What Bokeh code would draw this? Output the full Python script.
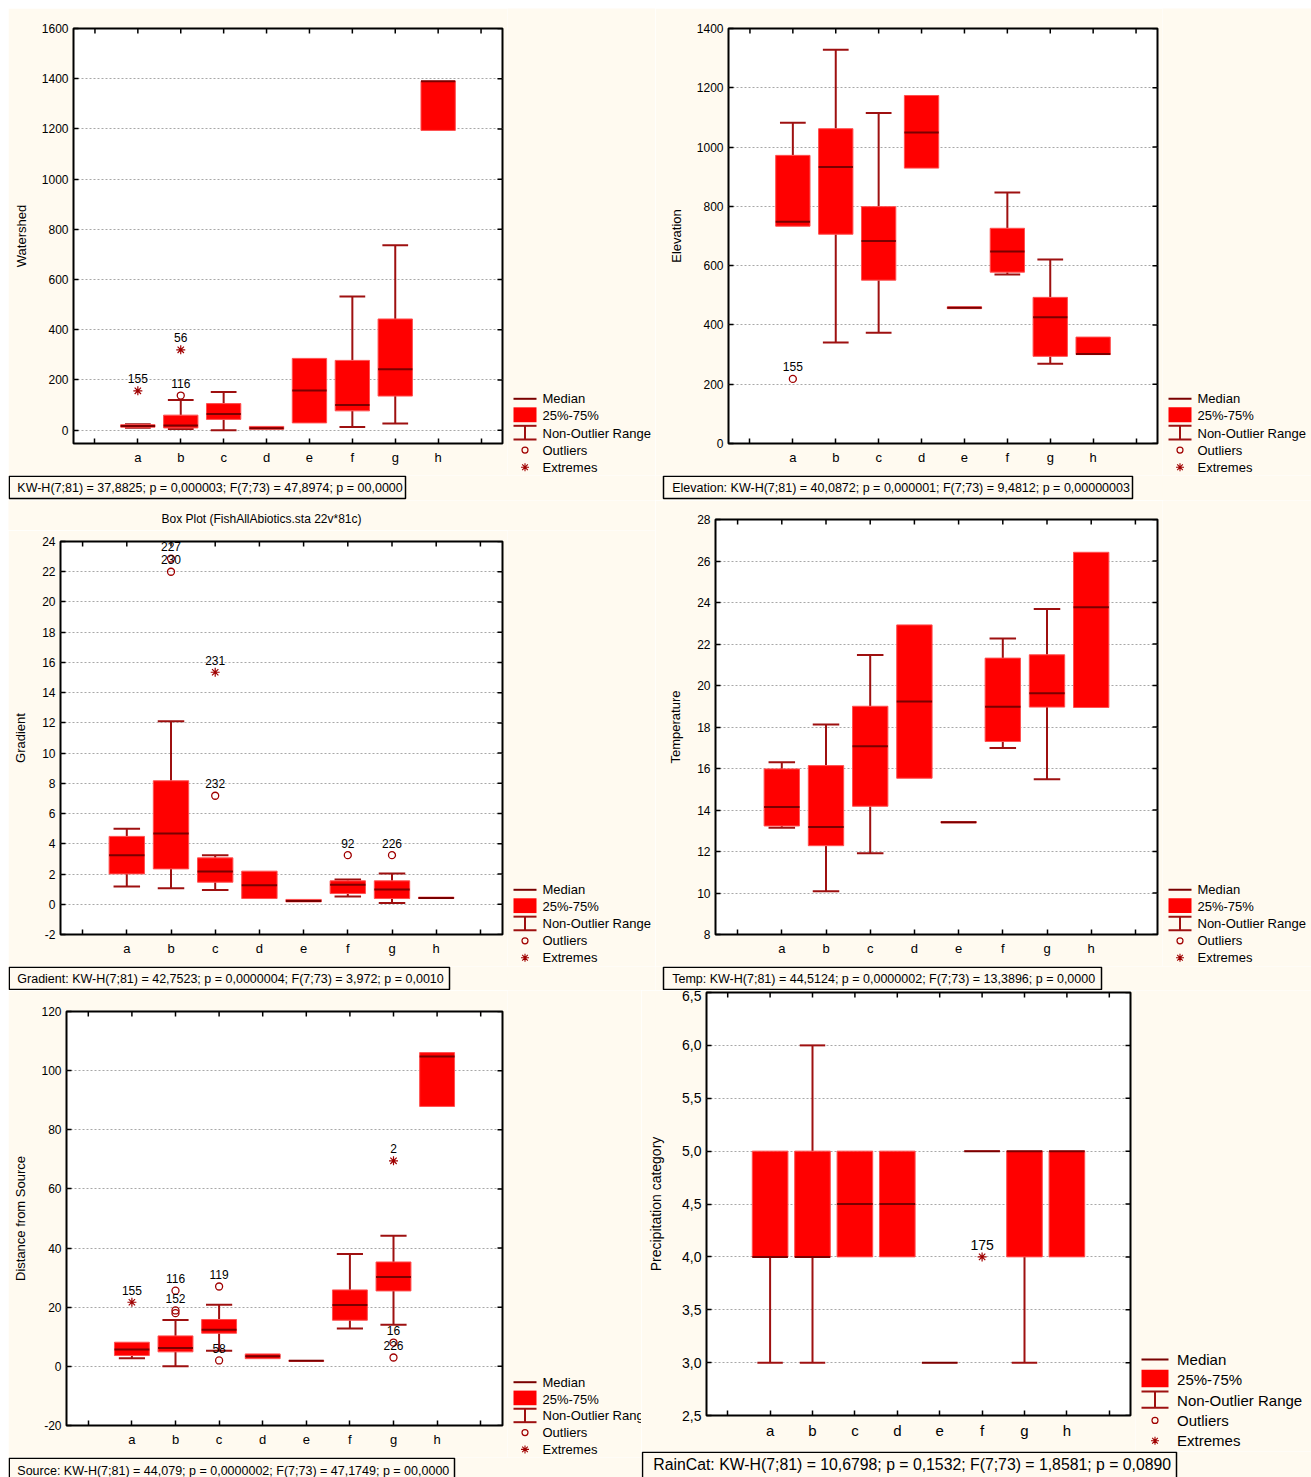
import math
from bokeh.plotting import figure
from bokeh.layouts import row, column
from bokeh.models import Range1d, FixedTicker
from bokeh.embed import file_html
from bokeh.resources import INLINE
from bokeh.core.properties import value

CATEGORIES = ["a", "b", "c", "d", "e", "f", "g", "h"]

# ---------------- Watershed ----------------
ws_q1 = [12, 9, 43, 4, 29, 77, 136, 1194]
ws_med = [17, 19, 65, 8, 158, 100, 243, 1390]
ws_q3 = [22, 60, 106, 15, 286, 278, 443, 1390]
ws_lo = [10, 5, 0, 4, 29, 13, 27, 1194]
ws_hi = [24, 120, 152, 15, 286, 533, 737, 1390]
ws_out_cat = ["b"]
ws_out_val = [138]
ws_out_lab = ["116"]
ws_ext_cat = ["a", "b"]
ws_ext_val = [157, 320]
ws_ext_lab = ["155", "56"]
ws_yticks = [0, 200, 400, 600, 800, 1000, 1200, 1400, 1600]
ws_ytick_labels = ["0", "200", "400", "600", "800", "1000", "1200", "1400", "1600"]

# ---------------- Elevation ----------------
el_q1 = [733, 706, 551, 929, 455, 578, 294, 300]
el_med = [748, 933, 683, 1049, 458, 648, 426, 302]
el_q3 = [972, 1062, 799, 1174, 461, 726, 493, 359]
el_lo = [733, 341, 374, 929, 455, 570, 269, 300]
el_hi = [1082, 1328, 1115, 1174, 461, 847, 621, 359]
el_out_cat = ["a"]
el_out_val = [218]
el_out_lab = ["155"]
el_ext_cat = []
el_ext_val = []
el_ext_lab = []
el_yticks = [0, 200, 400, 600, 800, 1000, 1200, 1400]
el_ytick_labels = ["0", "200", "400", "600", "800", "1000", "1200", "1400"]

# ---------------- Gradient ----------------
gr_q1 = [2.01, 2.34, 1.46, 0.38, 0.16, 0.71, 0.38, 0.38]
gr_med = [3.25, 4.68, 2.17, 1.26, 0.22, 1.29, 0.98, 0.42]
gr_q3 = [4.49, 8.17, 3.07, 2.19, 0.32, 1.55, 1.55, 0.47]
gr_lo = [1.17, 1.06, 0.95, 0.38, 0.16, 0.51, 0.09, 0.38]
gr_hi = [5.0, 12.1, 3.25, 2.19, 0.32, 1.64, 2.04, 0.47]
gr_out_cat = ["b", "b", "c", "f", "g"]
gr_out_val = [22.87, 22.0, 7.18, 3.25, 3.25]
gr_out_lab = ["227", "230", "232", "92", "226"]
gr_ext_cat = ["c"]
gr_ext_val = [15.35]
gr_ext_lab = ["231"]
gr_yticks = [-2, 0, 2, 4, 6, 8, 10, 12, 14, 16, 18, 20, 22, 24]
gr_ytick_labels = ["-2", "0", "2", "4", "6", "8", "10", "12", "14", "16", "18", "20", "22", "24"]

# ---------------- Temperature ----------------
te_q1 = [13.23, 12.28, 14.18, 15.53, 13.38, 17.30, 18.96, 18.94]
te_med = [14.15, 13.18, 17.07, 19.23, 13.41, 18.97, 19.63, 23.77]
te_q3 = [15.98, 16.14, 19.0, 22.92, 13.44, 21.32, 21.48, 26.42]
te_lo = [13.15, 10.08, 11.91, 15.53, 13.38, 16.99, 15.48, 18.94]
te_hi = [16.3, 18.12, 21.47, 22.92, 13.44, 22.27, 23.69, 26.42]
te_out_cat = []
te_out_val = []
te_out_lab = []
te_ext_cat = []
te_ext_val = []
te_ext_lab = []
te_yticks = [8, 10, 12, 14, 16, 18, 20, 22, 24, 26, 28]
te_ytick_labels = ["8", "10", "12", "14", "16", "18", "20", "22", "24", "26", "28"]

# ---------------- Distance from Source ----------------
ds_q1 = [3.66, 4.9, 11.2, 2.6, 1.7, 15.6, 25.5, 87.9]
ds_med = [5.69, 6.25, 12.4, 3.4, 1.86, 20.78, 30.2, 104.8]
ds_q3 = [8.16, 10.3, 15.85, 4.2, 2.0, 25.85, 35.3, 106.1]
ds_lo = [2.76, 0.0, 5.3, 2.6, 1.7, 12.78, 14.1, 87.9]
ds_hi = [8.16, 15.7, 20.8, 4.2, 2.0, 38.0, 44.2, 106.1]
ds_out_cat = ["b", "b", "b", "c", "c", "g", "g"]
ds_out_val = [25.6, 18.9, 18.0, 27.0, 2.0, 8.05, 3.0]
ds_out_lab = ["116", "152", "", "119", "58", "16", "226"]
ds_ext_cat = ["a", "g"]
ds_ext_val = [21.68, 69.5]
ds_ext_lab = ["155", "2"]
ds_yticks = [-20, 0, 20, 40, 60, 80, 100, 120]
ds_ytick_labels = ["-20", "0", "20", "40", "60", "80", "100", "120"]

# ---------------- Precipitation category ----------------
rc_q1 = [4, 4, 4, 4, 3, 5, 4, 4]
rc_med = [4, 4, 4.5, 4.5, 3, 5, 5, 5]
rc_q3 = [5, 5, 5, 5, 3, 5, 5, 5]
rc_lo = [3, 3, 4, 4, 3, 5, 3, 4]
rc_hi = [5, 6, 5, 5, 3, 5, 5, 5]
rc_out_cat = []
rc_out_val = []
rc_out_lab = []
rc_ext_cat = ["f"]
rc_ext_val = [4.0]
rc_ext_lab = ["175"]
rc_yticks = [2.5, 3.0, 3.5, 4.0, 4.5, 5.0, 5.5, 6.0, 6.5]
rc_ytick_labels = ["2,5", "3,0", "3,5", "4,0", "4,5", "5,0", "5,5", "6,0", "6,5"]

LEGEND_LABELS = ["Median", "25%-75%", "Non-Outlier Range", "Outliers", "Extremes"]

ws_stat = "KW-H(7;81) = 37,8825; p = 0,000003;  F(7;73) = 47,8974; p = 00,0000"
el_stat = "Elevation:  KW-H(7;81) = 40,0872; p = 0,000001;  F(7;73) = 9,4812; p = 0,00000003"
gr_stat = "Gradient:  KW-H(7;81) = 42,7523; p = 0,0000004;  F(7;73) = 3,972; p = 0,0010"
te_stat = "Temp:  KW-H(7;81) = 44,5124; p = 0,0000002;  F(7;73) = 13,3896; p = 0,0000"
ds_stat = "Source:  KW-H(7;81) = 44,079; p = 0,0000002;  F(7;73) = 47,1749; p = 00,0000"
rc_stat = "RainCat:   KW-H(7;81) = 10,6798;  p = 0,1532;   F(7;73) = 1,8581;  p = 0,0890"
gr_title = "Box Plot (FishAllAbiotics.sta 22v*81c)"

FONT = "Liberation Sans"
CREAM = "#FFFAF0"
BOXRED = "#FF0000"
MEDCOL = "#7A0000"
WHISK = "#9E1010"
PTCOL = "#A00000"


def make_plot(cfg):
    W, H = cfg["W"], cfg["H"]
    L, T, FW, FH = cfg["L"], cfg["T"], cfg["FW"], cfg["FH"]
    ylo, yhi = cfg["yrange"]

    p = figure(width=W, height=H, x_range=Range1d(-0.5, 9.5), y_range=Range1d(ylo, yhi),
               output_backend="svg", toolbar_location=None,
               min_border_left=L, min_border_right=W - L - FW,
               min_border_top=T, min_border_bottom=H - T - FH,
               background_fill_color="white", border_fill_color=CREAM,
               outline_line_color="black", outline_line_width=2)

    xticks = list(range(10))
    xt = FixedTicker(ticks=xticks)
    yt = FixedTicker(ticks=cfg["yticks"])
    xlab = {0: "", 9: ""}
    for i, c in enumerate(CATEGORIES):
        xlab[i + 1] = c
    ylab = {v: s for v, s in zip(cfg["yticks"], cfg["ytick_labels"])}

    xa = p.xaxis[0]
    ya = p.yaxis[0]
    xa.ticker = xt
    xa.major_label_overrides = xlab
    ya.ticker = yt
    ya.major_label_overrides = ylab
    for ax in (xa, ya):
        ax.axis_line_color = None
        ax.major_tick_in = 5
        ax.major_tick_out = 0
        ax.major_tick_line_width = 1.5
        ax.major_tick_line_color = "black"
        ax.minor_tick_line_color = None
        ax.major_label_text_font = FONT
        ax.major_label_text_color = "black"
    ya.major_label_text_font_size = f"{cfg['fs_tick']}px"
    ya.major_label_standoff = 5
    xa.major_label_text_font_size = f"{cfg['fs_cat']}px"
    xa.major_label_standoff = 6
    ya.axis_label = cfg["ylabel"]
    ya.axis_label_text_font = FONT
    ya.axis_label_text_font_size = f"{cfg['fs_lab']}px"
    ya.axis_label_text_font_style = "normal"
    ya.axis_label_text_color = "black"
    ya.axis_label_standoff = cfg["ylab_standoff"]

    p.xgrid.visible = False
    p.ygrid.ticker = yt
    p.ygrid.grid_line_color = "#A8A8A8"
    p.ygrid.grid_line_dash = "2 2"
    p.ygrid.grid_line_width = 1

    # inward tick marks on the top and right frame edges (half of each dash is clipped)
    p.scatter(x=xticks, y=[yhi] * len(xticks), marker="dash", angle=math.pi / 2, size=10,
              line_color="black", line_width=1.5)
    p.scatter(x=[9.5] * len(cfg["yticks"]), y=cfg["yticks"], marker="dash", size=10,
              line_color="black", line_width=1.5)

    xs = list(range(1, 9))
    bw, cw = cfg["bw"], cfg["cw"]
    q1, med, q3, lo, hi = cfg["q1"], cfg["med"], cfg["q3"], cfg["lo"], cfg["hi"]

    up = [(x, q, w) for x, q, w in zip(xs, q3, hi) if w > q]
    dn = [(x, q, w) for x, q, w in zip(xs, q1, lo) if w < q]
    for seg in (up, dn):
        if seg:
            sx_, sq_, sw_ = zip(*seg)
            p.segment(x0=list(sx_), y0=list(sq_), x1=list(sx_), y1=list(sw_),
                      line_color=WHISK, line_width=2)
            p.segment(x0=[x - cw / 2 for x in sx_], y0=list(sw_),
                      x1=[x + cw / 2 for x in sx_], y1=list(sw_),
                      line_color=WHISK, line_width=2)

    p.vbar(x=xs, width=bw, bottom=q1, top=q3, fill_color=BOXRED, line_color="#FF5050", line_width=1)
    p.segment(x0=[x - bw / 2 for x in xs], y0=med, x1=[x + bw / 2 for x in xs], y1=med,
              line_color=MEDCOL, line_width=2)

    ox = [CATEGORIES.index(c) + 1 for c in cfg["out_cat"]]
    ex = [CATEGORIES.index(c) + 1 for c in cfg["ext_cat"]]
    if ox:
        p.scatter(x=ox, y=cfg["out_val"], marker="circle", size=cfg["msize"],
                  fill_color=None, line_color=PTCOL, line_width=1.3)
        p.text(x=ox, y=cfg["out_val"], text=cfg["out_lab"], text_align="center",
               text_baseline="middle", y_offset=-12, text_font=value(FONT),
               text_font_size=f"{cfg['fs_pt']}px", text_color="black")
    if ex:
        p.scatter(x=ex, y=cfg["ext_val"], marker="asterisk", size=cfg["msize"] + 2,
                  line_color=PTCOL, line_width=1.2)
        p.text(x=ex, y=cfg["ext_val"], text=cfg["ext_lab"], text_align="center",
               text_baseline="middle", y_offset=-12, text_font=value(FONT),
               text_font_size=f"{cfg['fs_pt']}px", text_color="black")
    return p


def decor(W, H):
    """Plain pixel-space figure used for legends, titles and statistic boxes."""
    f = figure(width=W, height=H, x_range=Range1d(0, W), y_range=Range1d(H, 0),
               output_backend="svg", toolbar_location=None, min_border=0,
               x_axis_location=None, y_axis_location=None,
               background_fill_color=CREAM, border_fill_color=CREAM, outline_line_color=None)
    f.grid.visible = False
    return f


def make_legend(W, H, origin, spec):
    ox, oy = origin
    lx, ly0, dy, iw, tx, fs = spec
    f = decor(W, H)
    lx -= ox
    tx -= ox
    ys = [ly0 - oy + i * dy for i in range(5)]
    cx = lx + iw / 2
    f.segment(x0=[lx], y0=[ys[0]], x1=[lx + iw], y1=[ys[0]], line_color=MEDCOL, line_width=2)
    f.quad(left=[lx], right=[lx + iw], top=[ys[1] - 0.5 * dy], bottom=[ys[1] + 0.37 * dy],
           fill_color=BOXRED, line_color=None)
    wt, wb = ys[2] - 0.42 * dy, ys[2] + 0.38 * dy
    f.segment(x0=[cx, lx, lx], y0=[wt, wt, wb], x1=[cx, lx + iw, lx + iw], y1=[wb, wt, wb],
              line_color=WHISK, line_width=2)
    f.scatter(x=[cx], y=[ys[3]], marker="circle", size=6, fill_color=None,
              line_color=PTCOL, line_width=1.2)
    f.scatter(x=[cx], y=[ys[4]], marker="asterisk", size=8, line_color=PTCOL, line_width=1.1)
    f.text(x=[tx] * 5, y=ys, text=LEGEND_LABELS, text_align="left", text_baseline="middle",
           text_font=value(FONT), text_font_size=f"{fs}px", text_color="black")
    return f


def make_stat(W, H, origin, spec):
    ox, oy = origin
    text, bx0, by0, bx1, by1, tx, ty, fs = spec
    f = decor(W, H)
    f.quad(left=[max(bx0 - ox, 0.75)], right=[bx1 - ox], top=[max(by0 - oy, 0.75)], bottom=[by1 - oy],
           fill_color=None, line_color="black", line_width=1.5)
    f.text(x=[tx - ox], y=[ty - oy], text=[text], text_align="left", text_baseline="middle",
           text_font=value(FONT), text_font_size=f"{fs}px", text_color="black")
    return f


def make_title(W, H, origin, spec):
    ox, oy = origin
    text, tx, ty, fs = spec
    f = decor(W, H)
    f.text(x=[tx - ox], y=[ty - oy], text=[text], text_align="center", text_baseline="middle",
           text_font=value(FONT), text_font_size=f"{fs}px", text_color="black")
    return f


common = dict(bw=0.8, cw=0.6, fs_tick=12, fs_cat=13, fs_lab=13, fs_pt=12, msize=7)

# ---------- row 1 ----------
p1 = make_plot(dict(common, W=499, H=467, L=65, T=20, FW=429, FH=415,
                    yrange=(-53, 1600), yticks=ws_yticks, ytick_labels=ws_ytick_labels,
                    ylabel="Watershed", ylab_standoff=10,
                    q1=ws_q1, med=ws_med, q3=ws_q3, lo=ws_lo, hi=ws_hi,
                    out_cat=ws_out_cat, out_val=ws_out_val, out_lab=ws_out_lab,
                    ext_cat=ws_ext_cat, ext_val=ws_ext_val, ext_lab=ws_ext_lab))
l1 = make_legend(148, 467, (507, 8), (513, 398.3, 17.1, 23, 542, 13))
s1 = make_stat(647, 25, (8, 475), (ws_stat, 8, 475, 405, 498, 16.8, 487, 12.5))

p2 = make_plot(dict(common, W=507, H=467, L=73, T=20, FW=429, FH=415,
                    yrange=(0, 1400), yticks=el_yticks, ytick_labels=el_ytick_labels,
                    ylabel="Elevation", ylab_standoff=10,
                    q1=el_q1, med=el_med, q3=el_q3, lo=el_lo, hi=el_hi,
                    out_cat=el_out_cat, out_val=el_out_val, out_lab=el_out_lab,
                    ext_cat=el_ext_cat, ext_val=el_ext_val, ext_lab=el_ext_lab))
l2 = make_legend(149, 467, (1162, 8), (1168, 398.3, 17.1, 23, 1197, 13))
s2 = make_stat(656, 25, (655, 475), (el_stat, 663, 475, 1132, 498, 671.7, 487, 12.5))

# ---------- row 2 ----------
t3 = make_title(647, 30, (8, 500), (gr_title, 261, 518, 12))
p3 = make_plot(dict(common, W=499, H=436, L=52, T=11, FW=442, FH=393,
                    yrange=(-2, 24), yticks=gr_yticks, ytick_labels=gr_ytick_labels,
                    ylabel="Gradient", ylab_standoff=11,
                    q1=gr_q1, med=gr_med, q3=gr_q3, lo=gr_lo, hi=gr_hi,
                    out_cat=gr_out_cat, out_val=gr_out_val, out_lab=gr_out_lab,
                    ext_cat=gr_ext_cat, ext_val=gr_ext_val, ext_lab=gr_ext_lab))
l3 = make_legend(148, 436, (507, 530), (513, 889.3, 17.0, 23, 542, 13))
s3 = make_stat(647, 24, (8, 966), (gr_stat, 8, 966, 449, 989, 16.8, 978.3, 12.5))

p4 = make_plot(dict(common, W=507, H=466, L=60, T=19, FW=442, FH=415,
                    yrange=(8, 28), yticks=te_yticks, ytick_labels=te_ytick_labels,
                    ylabel="Temperature", ylab_standoff=11,
                    q1=te_q1, med=te_med, q3=te_q3, lo=te_lo, hi=te_hi,
                    out_cat=te_out_cat, out_val=te_out_val, out_lab=te_out_lab,
                    ext_cat=te_ext_cat, ext_val=te_ext_val, ext_lab=te_ext_lab))
l4 = make_legend(149, 466, (1162, 500), (1168, 889.3, 17.0, 23, 1197, 13))
s4 = make_stat(656, 24, (655, 966), (te_stat, 663, 966, 1101, 989, 671.7, 978.3, 12.5))

# ---------- row 3 ----------
p5 = make_plot(dict(common, W=499, H=467, L=58, T=21, FW=436, FH=414,
                    yrange=(-20, 120), yticks=ds_yticks, ytick_labels=ds_ytick_labels,
                    ylabel="Distance from Source", ylab_standoff=10,
                    q1=ds_q1, med=ds_med, q3=ds_q3, lo=ds_lo, hi=ds_hi,
                    out_cat=ds_out_cat, out_val=ds_out_val, out_lab=ds_out_lab,
                    ext_cat=ds_ext_cat, ext_val=ds_ext_val, ext_lab=ds_ext_lab))
l5 = make_legend(134, 467, (507, 990), (513, 1381.7, 16.8, 23, 542, 13))
s5 = make_stat(633, 20, (8, 1457), (ds_stat, 8, 1457, 454, 1482, 16.8, 1470.3, 12.5))

p6 = make_plot(dict(common, W=494, H=461, L=65, T=2, FW=424, FH=423,
                    yrange=(2.5, 6.5), yticks=rc_yticks, ytick_labels=rc_ytick_labels,
                    ylabel="Precipitation category", ylab_standoff=15,
                    fs_tick=14, fs_cat=15, fs_lab=14, fs_pt=14, bw=0.84,
                    q1=rc_q1, med=rc_med, q3=rc_q3, lo=rc_lo, hi=rc_hi,
                    out_cat=rc_out_cat, out_val=rc_out_val, out_lab=rc_out_lab,
                    ext_cat=rc_ext_cat, ext_val=rc_ext_val, ext_lab=rc_ext_lab))
l6 = make_legend(176, 461, (1135, 990), (1141, 1359, 20.3, 27, 1176.6, 15))
s6 = make_stat(670, 26, (641, 1451), (rc_stat, 642, 1451, 1176, 1480, 652.8, 1464.3, 15.8))


def plot_with_legend(p, leg):
    # the legend sits in its own column so that its canvas is not frame-aligned with the plot
    return row(p, column(leg, spacing=0), spacing=0)


def panel(*parts):
    return column(*parts, spacing=0)


layout = column(
    row(panel(plot_with_legend(p1, l1), s1), panel(plot_with_legend(p2, l2), s2), spacing=0),
    row(panel(t3, plot_with_legend(p3, l3), s3), panel(plot_with_legend(p4, l4), s4), spacing=0),
    row(panel(plot_with_legend(p5, l5), s5), panel(plot_with_legend(p6, l6), s6), spacing=0),
    spacing=0, margin=(8, 0, 0, 8))

open("out.html", "w").write(file_html(layout, INLINE))
